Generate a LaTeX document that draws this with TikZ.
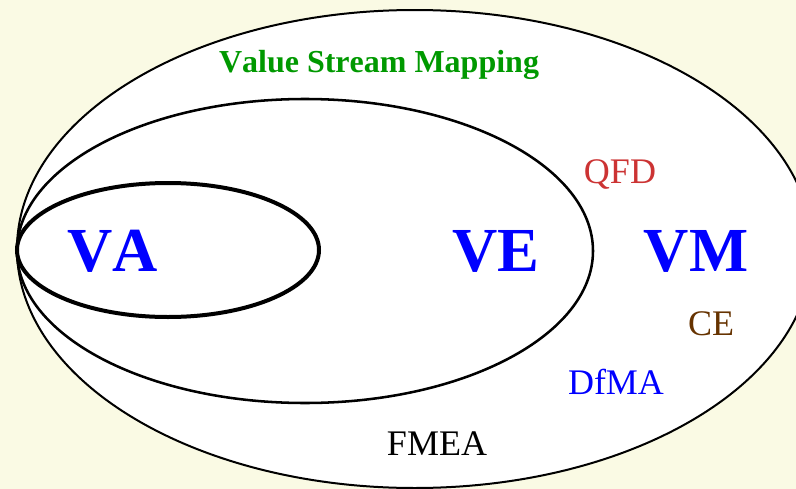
\documentclass[tikz,border=0pt]{standalone}
\usepackage{fontspec}
\setmainfont{Liberation Serif}[Kerning=Off]
\usepackage{xcolor}
\usepackage{tikz}

\definecolor{bgcream}{RGB}{250,250,228}
\definecolor{vsmgreen}{RGB}{0,153,0}
\definecolor{qfdred}{RGB}{204,51,51}
\definecolor{cebrown}{RGB}{102,51,0}

\tikzset{
  biglabel/.style={anchor=base,inner sep=0pt,text=blue,
                   font=\fontsize{47}{47}\selectfont\bfseries},
  toollabel/.style={anchor=base,inner sep=0pt,
                    font=\fontsize{27}{27}\selectfont},
}

\begin{document}
\begin{tikzpicture}[x=0.75pt,y=-0.75pt]
    \useasboundingbox (0,0) rectangle (796,489);
    \fill[bgcream] (0,0) rectangle (796,489);
    \clip (0,0) rectangle (796,489);

    % nested ellipses, all touching at the left
    \filldraw[fill=white,draw=black,line width=1.5pt] (414.7,249) ellipse (397.7 and 239);
    \draw[black,line width=1.9pt] (305,251) ellipse (288 and 152);
    \draw[black,line width=3pt] (168,250) ellipse (151 and 67);

    \node[anchor=base,inner sep=0pt,text=vsmgreen,
          font=\fontsize{24}{24}\selectfont\bfseries] (vsm) at (379,72) {Value Stream Mapping};

    \node[biglabel] (va) at (113,271) {VA};
    \node[biglabel] (ve) at (496,271) {VE};
    \node[biglabel] (vm) at (696,271) {VM};

    \node[toollabel,text=qfdred] (qfd) at (620,183) {QFD};
    \node[toollabel,text=cebrown] (ce) at (711,335) {CE};
    \node[toollabel,text=blue] (dfma) at (616,394) {DfMA};
    \node[toollabel,text=black] (fmea) at (437,455) {FMEA};
\end{tikzpicture}
\end{document}
